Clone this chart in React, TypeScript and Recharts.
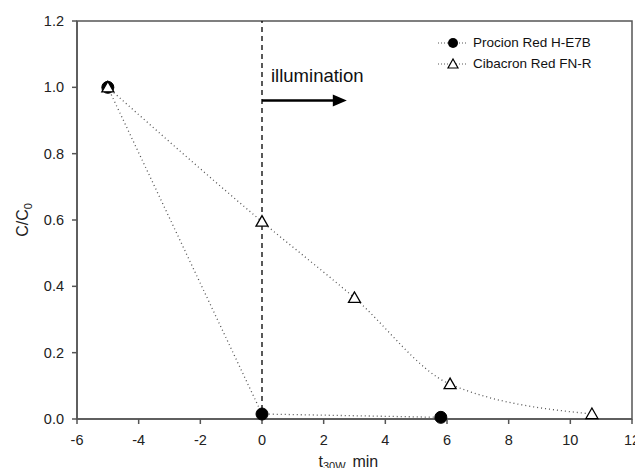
import React from 'react';
import { ComposedChart, Line, XAxis, YAxis, ReferenceLine, ReferenceArea, Label } from 'recharts';

const procionTime = [-5, 0, 5.8];
const procionRatio = [1.0, 0.015, 0.005];
const cibacronTime = [-5, 0, 3, 6.1, 10.7];
const cibacronRatio = [1.0, 0.595, 0.365, 0.105, 0.015];
const xTicks = [-6, -4, -2, 0, 2, 4, 6, 8, 10, 12];
const yTicks = [0, 0.2, 0.4, 0.6, 0.8, 1.0, 1.2];
const arrowStart = { x: 0, y: 0.96 };
const arrowEnd = { x: 2.75, y: 0.96 };

const procion = procionTime.map((x, i) => ({ x, y: procionRatio[i] }));
const cibacron = cibacronTime.map((x, i) => ({ x, y: cibacronRatio[i] }));

const FONT = '"Liberation Sans", Arial, sans-serif';
const AXIS = '#555';

const Circle = (props: any) => {
  const { cx, cy } = props;
  if (cx == null || cy == null) return null;
  return <circle cx={cx} cy={cy} r={6} fill="#000" stroke="#000" />;
};

const Triangle = (props: any) => {
  const { cx, cy } = props;
  if (cx == null || cy == null) return null;
  const s = 6;
  return (
    <polygon
      points={`${cx},${cy - s} ${cx - s},${cy + s * 0.75} ${cx + s},${cy + s * 0.75}`}
      fill="#fff"
      stroke="#000"
      strokeWidth={1.3}
    />
  );
};

const Arrow = (props: any) => {
  const { x1, y1, x2, y2 } = props;
  if (x1 == null) return null;
  return (
    <g>
      <line x1={x1} y1={y1} x2={x2 - 12} y2={y2} stroke="#000" strokeWidth={2.5} />
      <polygon points={`${x2},${y2} ${x2 - 14},${y2 - 6} ${x2 - 14},${y2 + 6}`} fill="#000" />
      <text x={x1 + 9} y={y1 - 19} fontSize={18.5} fontFamily={FONT} fill="#111">illumination</text>
    </g>
  );
};

const LegendBox = () => (
  <div style={{ position: 'absolute', left: 436, top: 32, fontFamily: FONT, fontSize: 13.5, color: '#111' }}>
    {[
      { name: 'Procion Red H-E7B', marker: <circle cx={17} cy={8} r={5} fill="#000" /> },
      { name: 'Cibacron Red FN-R', marker: <polygon points="17,3 12,12 22,12" fill="#fff" stroke="#000" strokeWidth={1.2} /> },
    ].map((item) => (
      <div key={item.name} style={{ display: 'flex', alignItems: 'center', height: 21 }}>
        <svg width={32} height={16}>
          <line x1={2} y1={8} x2={31} y2={8} stroke={AXIS} strokeDasharray="1 2" />
          {item.marker}
        </svg>
        <span style={{ marginLeft: 5 }}>{item.name}</span>
      </div>
    ))}
  </div>
);

export default function App() {
  const tick = { fontSize: 14.5, fill: '#222', fontFamily: FONT };
  return (
    <div style={{ margin: -8, width: 643, height: 476, background: '#fff', position: 'relative' }}>
      <ComposedChart width={643} height={476} margin={{ top: 21, right: 11, bottom: 0, left: 0 }}>
        <XAxis
          type="number"
          dataKey="x"
          domain={[-6, 12]}
          ticks={xTicks}
          allowDataOverflow
          height={57}
          stroke={AXIS}
          strokeWidth={1.5}
          tickSize={5}
          tickMargin={11}
          tick={tick}
        >
          <Label
            content={(p: any) => {
              const vb = p.viewBox;
              const cx = vb.x + vb.width / 2;
              return (
                <text x={cx - 36} y={vb.y + 48} fontSize={16} fontFamily={FONT} fill="#222">
                  t<tspan fontSize={11} dy={3}>30W,</tspan>
                  <tspan dy={-3}> min</tspan>
                </text>
              );
            }}
          />
        </XAxis>
        <YAxis
          type="number"
          dataKey="y"
          domain={[0, 1.2]}
          ticks={yTicks}
          width={77}
          stroke={AXIS}
          strokeWidth={1.5}
          tickSize={5}
          tickMargin={8}
          tick={tick}
          tickFormatter={(v: number) => v.toFixed(1)}
        >
          <Label
            content={(p: any) => {
              const vb = p.viewBox;
              const cy = vb.y + vb.height / 2;
              return (
                <text transform={`translate(28,${cy}) rotate(-90)`} textAnchor="middle" fontSize={16} fontFamily={FONT} fill="#222">
                  C/C<tspan fontSize={11} dy={4}>0</tspan>
                </text>
              );
            }}
          />
        </YAxis>
        <ReferenceArea x1={-6} x2={12} y1={0} y2={1.2} fill="none" stroke={AXIS} strokeWidth={1.5} ifOverflow="visible" />
        <ReferenceLine x={0} stroke="#000" strokeWidth={1.3} strokeDasharray="5 4" />
        <ReferenceLine segment={[arrowStart, arrowEnd]} shape={Arrow} />
        <Line
          data={procion}
          dataKey="y"
          name="Procion Red H-E7B"
          type="linear"
          stroke={AXIS}
          strokeWidth={1.3}
          strokeDasharray="1 3"
          dot={<Circle />}
          activeDot={false}
          isAnimationActive={false}
        />
        <Line
          data={cibacron}
          dataKey="y"
          name="Cibacron Red FN-R"
          type="monotone"
          stroke={AXIS}
          strokeWidth={1.3}
          strokeDasharray="1 3"
          dot={<Triangle />}
          activeDot={false}
          isAnimationActive={false}
        />
      </ComposedChart>
      <LegendBox />
    </div>
  );
}
